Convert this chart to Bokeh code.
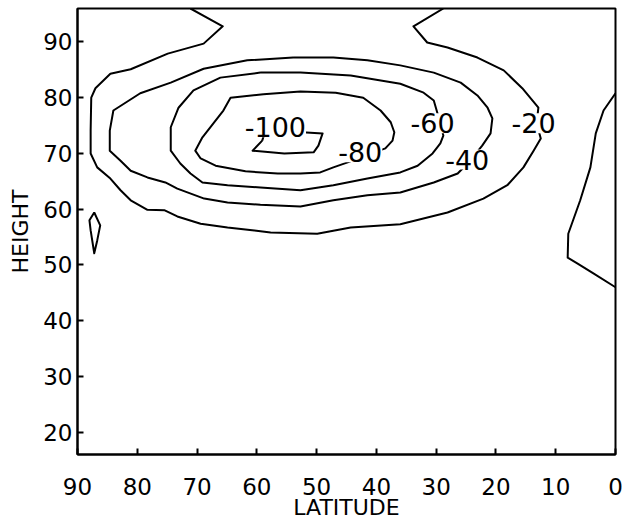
from bokeh.plotting import figure
from bokeh.models import Range1d, FixedTicker, Label
from bokeh.embed import file_html
from bokeh.resources import INLINE

# ---- axes ----
lat_ticks = [90, 80, 70, 60, 50, 40, 30, 20, 10, 0]
height_ticks = [20, 30, 40, 50, 60, 70, 80, 90]

# ---- contour lines (latitude, height) ----
# -20 contour, main branch (open, both ends on top boundary)
c20_lat = [71.1, 65.7, 68.9, 74.9, 81.1, 84.5, 87.0, 87.7, 87.8, 87.8, 86.7, 84.5, 82.8, 81.1, 78.3,
           75.4, 73.3, 69.4, 64.9, 60.4, 57.7, 49.9, 44.3, 36.0, 28.1, 22.1, 18.1, 15.4, 13.7, 12.5,
           13.2, 12.9, 15.6, 18.7, 23.1, 28.1, 31.5, 33.8, 28.8]
c20_h = [96, 92.8, 89.7, 87.9, 85.1, 84.3, 81.7, 80.0, 74.1, 70.0, 67.5, 65.5, 63.4, 61.6, 59.9,
         59.8, 58.7, 57.4, 56.7, 56.2, 55.8, 55.6, 56.7, 57.3, 59.4, 61.9, 64.3, 67.5, 70.5, 72.7,
         75.4, 78.2, 81.7, 84.9, 87.2, 89.0, 89.9, 92.8, 96]
# -20 contour near the equator (open, ends on right boundary)
c20eq_lat = [0, 2.0, 3.3, 4.2, 5.9, 7.9, 8.0, 6.4, 3.7, 0]
c20eq_h = [80.8, 77.7, 73.6, 67.5, 61.6, 55.6, 51.3, 50.3, 48.5, 46.0]
# small closed loop near the pole
c20pole_lat = [87.2, 88.0, 87.8, 87.2, 86.7, 86.2]
c20pole_h = [59.4, 58.0, 56.2, 52.1, 54.4, 57.1]
# -40
c40_lat = [53.9, 61.6, 68.9, 74.4, 79.5, 84.0, 84.6, 84.6, 82.8, 81.1, 78.3, 75.3, 73.3, 68.8, 64.9,
           59.4, 52.7, 47.2, 41.5, 36.0, 30.4, 26.4, 24.3, 22.3, 20.9, 20.6, 21.4, 23.1, 25.9, 30.4,
           36.0, 41.5, 47.2]
c40_h = [87.2, 86.7, 85.2, 82.7, 80.8, 77.7, 74.1, 70.5, 68.7, 66.9, 65.7, 64.8, 63.7, 61.9, 61.2,
         60.8, 60.5, 61.6, 62.5, 63.0, 64.8, 66.4, 68.7, 71.4, 73.6, 76.3, 78.2, 80.4, 82.7, 84.5,
         85.8, 86.7, 87.2]
# -60
c60_lat = [59.4, 66.1, 70.6, 73.1, 74.4, 74.4, 72.8, 71.1, 69.1, 64.9, 59.4, 52.7, 47.2, 41.5, 36.0,
           33.1, 30.6, 29.3, 28.8, 29.3, 30.4, 32.1, 36.0, 44.3, 52.7]
c60_h = [84.5, 83.6, 81.3, 78.2, 74.7, 70.5, 68.2, 66.4, 64.8, 64.3, 63.9, 63.4, 64.3, 65.5, 66.6,
         67.8, 70.0, 71.8, 73.2, 75.4, 79.5, 80.9, 82.5, 84.0, 84.5]
# -80
c80_lat = [58.9, 64.4, 65.6, 67.4, 69.1, 70.3, 69.4, 66.9, 61.9, 56.5, 52.7, 49.4, 47.2, 44.8, 41.8,
           38.5, 37.3, 37.0, 37.6, 39.3, 42.2, 46.8, 52.7]
c80_h = [80.6, 80.0, 77.7, 75.2, 72.9, 70.5, 69.1, 67.8, 66.8, 66.4, 66.4, 66.6, 67.5, 68.4, 69.6,
         70.9, 72.3, 73.8, 75.6, 77.7, 80.0, 80.9, 81.1]
# -100
c100_lat = [59.1, 60.7, 55.4, 50.5, 49.7, 49.0, 52.4, 58.5]
c100_h = [72.3, 70.5, 70.0, 70.2, 71.4, 73.6, 73.8, 74.3]

# contour labels
label_text = ["-20", "-40", "-60", "-80", "-100"]
label_lat = [13.7, 24.8, 30.6, 42.7, 56.9]
label_h = [75.4, 68.9, 75.4, 70.2, 74.7]


def closed(a):
    return list(a) + [a[0]]


xs = [c20_lat, c20eq_lat, closed(c20pole_lat), closed(c40_lat), closed(c60_lat),
      closed(c80_lat), closed(c100_lat)]
ys = [c20_h, c20eq_h, closed(c20pole_h), closed(c40_h), closed(c60_h),
      closed(c80_h), closed(c100_h)]

FONT = "DejaVu Sans"

p = figure(width=633, height=522,
           x_range=Range1d(90, 0), y_range=Range1d(16, 96),
           output_backend="svg", toolbar_location=None,
           min_border_left=77, min_border_right=18,
           min_border_top=8, min_border_bottom=68,
           background_fill_color="white", border_fill_color="white")

p.xgrid.visible = False
p.ygrid.visible = False
p.outline_line_color = "black"
p.outline_line_width = 2
p.outline_line_alpha = 1

p.xaxis.ticker = FixedTicker(ticks=lat_ticks)
p.yaxis.ticker = FixedTicker(ticks=height_ticks)
p.xaxis.axis_label = "LATITUDE"
p.yaxis.axis_label = "HEIGHT"

for ax in (p.xaxis[0], p.yaxis[0]):
    ax.axis_line_width = 2
    ax.axis_line_color = "black"
    ax.major_tick_in = 6
    ax.major_tick_out = 0
    ax.major_tick_line_width = 2
    ax.major_tick_line_color = "black"
    ax.minor_tick_line_color = None
    ax.major_label_text_font = FONT
    ax.major_label_text_font_size = "23px"
    ax.major_label_text_color = "black"
    ax.axis_label_text_font = FONT
    ax.axis_label_text_font_style = "normal"
    ax.axis_label_text_font_size = "22px"
    ax.axis_label_text_color = "black"

p.xaxis.major_label_standoff = 23
p.xaxis.axis_label_standoff = -3
p.yaxis.major_label_standoff = 5
p.yaxis.axis_label_standoff = 7

p.multi_line(xs, ys, line_color="black", line_width=2, line_join="round")

for t, lx, ly in zip(label_text, label_lat, label_h):
    p.add_layout(Label(x=lx, y=ly, text=t, text_align="center", text_baseline="middle",
                       text_font=FONT, text_font_size="27px", text_color="black",
                       background_fill_color="white", background_fill_alpha=1.0))

with open("out.html", "w") as f:
    f.write(file_html(p, INLINE))
